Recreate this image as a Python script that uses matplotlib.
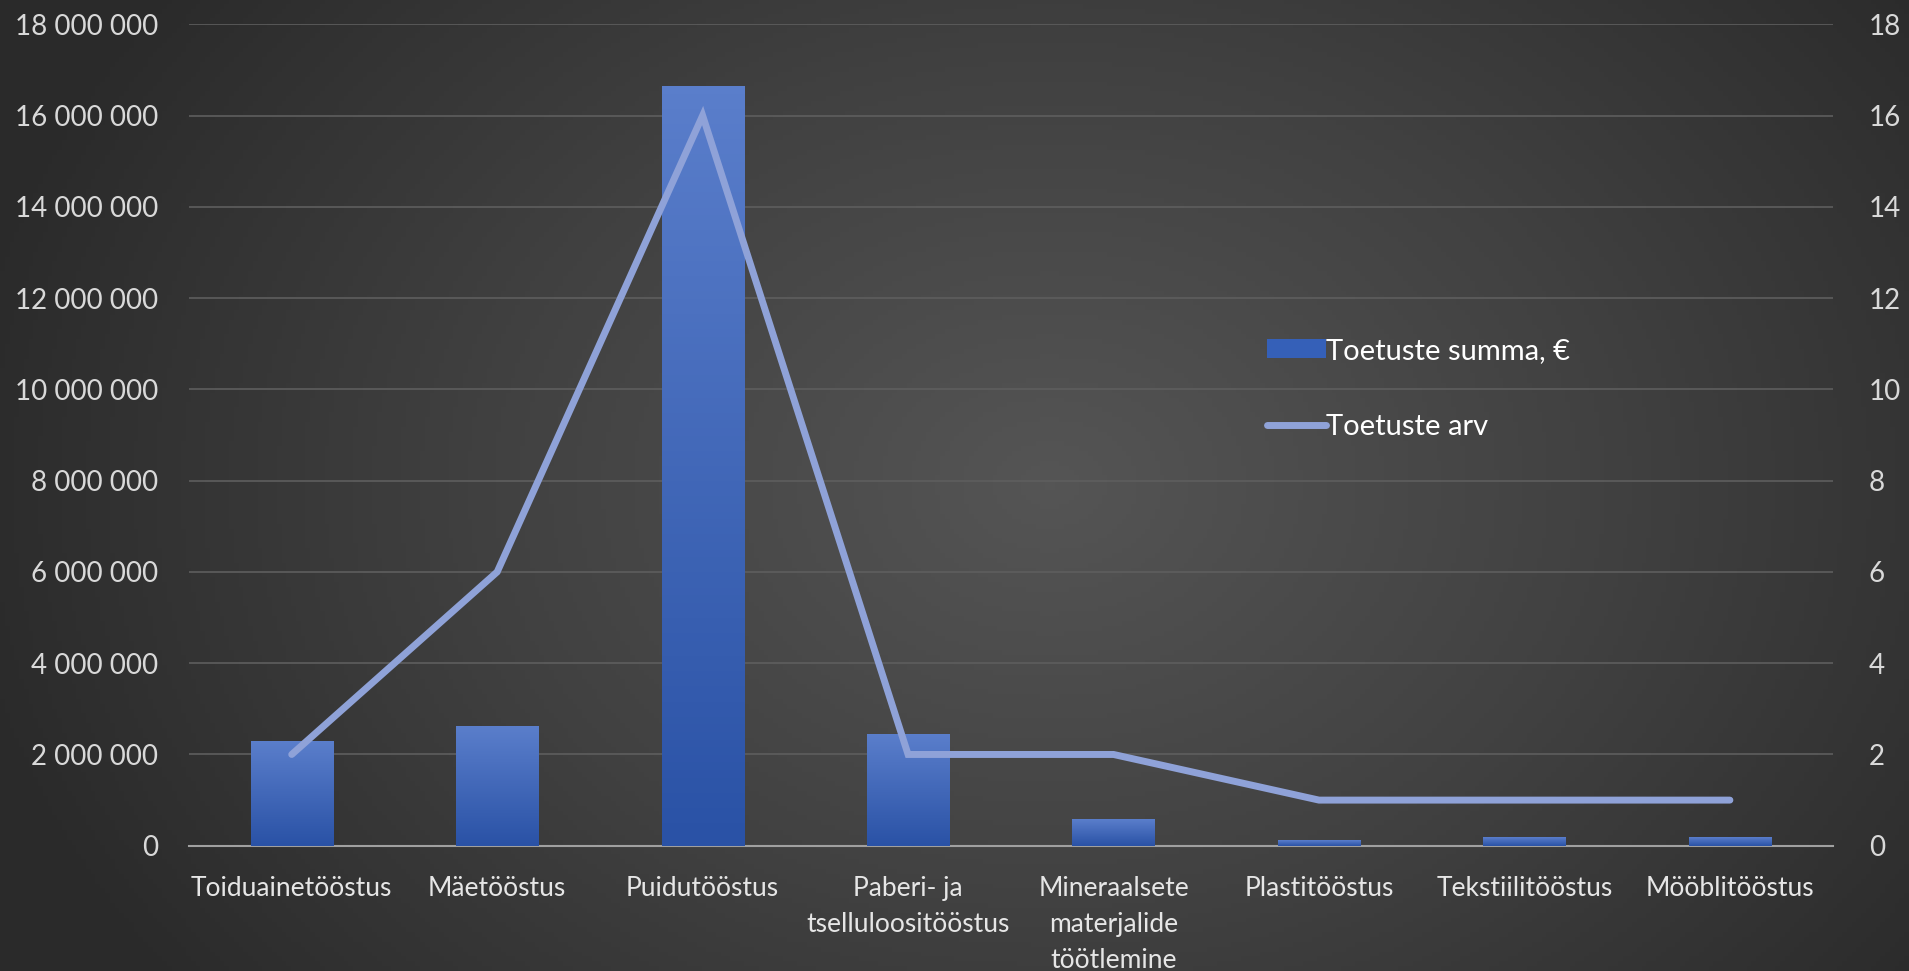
import numpy as np
import matplotlib
matplotlib.use("Agg")
import matplotlib.pyplot as plt
import matplotlib.ticker as mticker
from matplotlib.colors import LinearSegmentedColormap

plt.rcParams['font.family'] = ['Lato', 'DejaVu Sans']

categories = ["Toiduainetööstus", "Mäetööstus", "Puidutööstus",
              "Paberi- ja\ntselluloositööstus", "Mineraalsete\nmaterjalide\ntöötlemine",
              "Plastitööstus", "Tekstiilitööstus", "Mööblitööstus"]
summa = [2290000, 2620000, 16650000, 2450000, 590000, 130000, 190000, 190000]
arv = [2, 6, 16, 2, 2, 1, 1, 1]
left_ticks = [0, 2000000, 4000000, 6000000, 8000000, 10000000, 12000000, 14000000, 16000000, 18000000]
right_ticks = [0, 2, 4, 6, 8, 10, 12, 14, 16, 18]

fig = plt.figure(figsize=(19.09, 9.71), dpi=100)

# background gradient (dark edges, lighter middle)
bg = fig.add_axes([0, 0, 1, 1], zorder=-10)
xx, yy = np.meshgrid(np.linspace(-1, 1, 400), np.linspace(-1, 1, 200))
r = np.sqrt(((xx - 0.1) * 0.9) ** 2 + (yy * 0.6) ** 2)
bg_cmap = LinearSegmentedColormap.from_list("bg", ["#555555", "#414141", "#2a2a2a"])
bg.imshow(r, cmap=bg_cmap, aspect="auto", extent=[0, 1, 0, 1], vmin=0, vmax=1.05)
bg.axis("off")

ax = fig.add_axes([0.099, 0.129, 0.861, 0.846])
ax.patch.set_alpha(0)
x = np.arange(len(categories))

bars = ax.bar(x, summa, width=0.4, color="#3560b8", zorder=2, label="Toetuste summa, €")
bar_cmap = LinearSegmentedColormap.from_list("bar", ["#2a52a6", "#5a7ecb"])
grad = np.linspace(0, 1, 100).reshape(-1, 1)
for b in bars:
    bx, by = b.get_x(), b.get_y()
    im = ax.imshow(grad, cmap=bar_cmap, origin="lower", aspect="auto", zorder=3,
                   extent=[bx, bx + b.get_width(), by, by + b.get_height()])
    im.set_clip_path(b)

ax.set_xlim(-0.5, len(categories) - 0.5)
ax.set_ylim(0, 18000000)
ax.set_yticks(left_ticks)
ax.yaxis.set_major_formatter(mticker.FuncFormatter(lambda v, p: f"{int(v):,}".replace(",", " ")))
ax.set_xticks(x)
ax.set_xticklabels(categories, fontsize=19, color="#e6e6e6", linespacing=1.55, va="top")
ax.tick_params(axis="y", labelsize=20, colors="#d9d9d9", length=0, pad=22)
ax.tick_params(axis="x", length=0, pad=22)
ax.grid(axis="y", color="#5e5e5e", lw=1.2, zorder=0)
for s in ["top", "right", "left"]:
    ax.spines[s].set_visible(False)
ax.spines["bottom"].set_color("#a0a0a0")
ax.spines["bottom"].set_linewidth(1.5)

ax2 = ax.twinx()
ax2.plot(x, arv, color="#8fa2d8", lw=5, solid_capstyle="round", solid_joinstyle="miter",
         zorder=5, label="Toetuste arv")
ax2.set_ylim(0, 18)
ax2.set_yticks(right_ticks)
ax2.tick_params(axis="y", labelsize=20, colors="#d9d9d9", length=0, pad=26)
for s in ax2.spines.values():
    s.set_visible(False)

h1, l1 = ax.get_legend_handles_labels()
h2, l2 = ax2.get_legend_handles_labels()
leg = ax2.legend(h1 + h2, l1 + l2, loc="upper left", bbox_to_anchor=(0.64, 0.65),
                 frameon=False, fontsize=21, labelcolor="white", handlelength=2.0,
                 handleheight=0.6, handletextpad=0.0, labelspacing=1.72)

fig.savefig("out.png", dpi=100)
